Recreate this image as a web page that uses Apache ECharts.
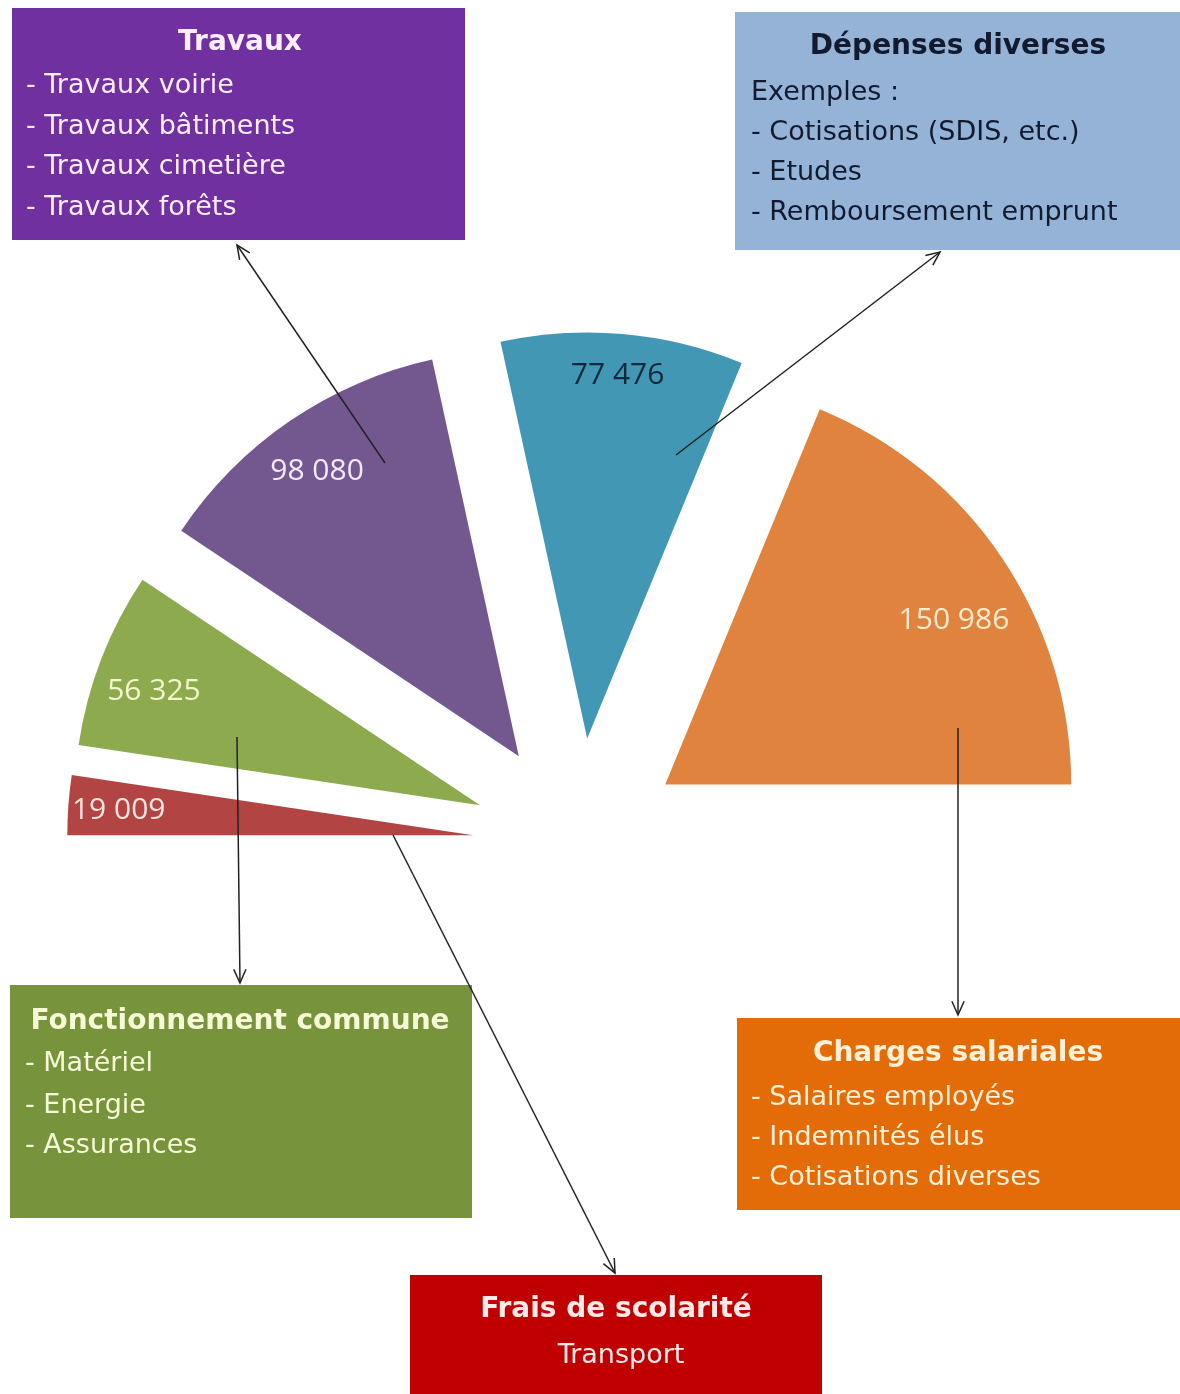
<!DOCTYPE html>
<html><head><meta charset="utf-8">
<script src="https://cdn.jsdelivr.net/npm/echarts@6/dist/echarts.min.js"></script>
<style>html,body{margin:0;padding:0;background:#fff}#c{width:1180px;height:1394px}</style>
</head><body><div id="c"></div>
<script>
// Data
var categories = ['Frais de scolarité', 'Fonctionnement commune', 'Travaux', 'Dépenses diverses', 'Charges salariales'];
var values = [19009, 56325, 98080, 77476, 150986];
var labelTexts = ['19 009', '56 325', '98 080', '77 476', '150 986'];
var sliceColors = ['#B24543', '#8DAA4E', '#735890', '#4197B4', '#DF833F'];
var labelColors = ['#F8E4DE', '#F2F7CC', '#F3E8F6', '#13283B', '#FCEBCB'];
var labelNudges = [[-8,1],[-2,12],[-6,2],[0,-17],[0,29]];

var FONT = '"Comic Sans MS","DejaVu Sans",sans-serif';

var boxes = [
  {x:12, y:8, w:453, h:232, fill:'#7030A0', color:'#FFEEFF', title:'Travaux', tx:240, ty:43,
   lines:['- Travaux voirie','- Travaux bâtiments','- Travaux cimetière','- Travaux forêts'], lx:26, ly:[86,127,167,208]},
  {x:735, y:12, w:445, h:238, fill:'#95B3D7', color:'#121a30', title:'Dépenses diverses', tx:958, ty:47,
   lines:['Exemples :','- Cotisations (SDIS, etc.)','- Etudes','- Remboursement emprunt'], lx:751, ly:[93,133,173,213]},
  {x:10, y:985, w:462, h:233, fill:'#77933C', color:'#F6FAD6', title:'Fonctionnement commune', tx:240, ty:1022,
   lines:['- Matériel','- Energie','- Assurances'], lx:25, ly:[1064,1106,1146]},
  {x:737, y:1018, w:443, h:192, fill:'#E36C09', color:'#FFF0D6', title:'Charges salariales', tx:958, ty:1054,
   lines:['- Salaires employés','- Indemnités élus','- Cotisations diverses'], lx:751, ly:[1098,1138,1178]},
  {x:410, y:1275, w:412, h:119, fill:'#C00000', color:'#FFEAEA', title:'Frais de scolarité', tx:616, ty:1310,
   lines:['Transport'], lx:621, ly:[1356], center:true}
];
var arrows = [
  [385,463,237,245],
  [676,455,940,252],
  [237,737,240,983],
  [958,728,958,1015],
  [393,835,615,1273]
];

var graphics = [];
boxes.forEach(function(b){
  graphics.push({type:'rect', shape:{x:b.x,y:b.y,width:b.w,height:b.h}, style:{fill:b.fill}, z:1});
  graphics.push({type:'text', x:b.tx, y:b.ty, style:{text:b.title, fill:b.color, font:'bold 28px '+FONT, align:'center', verticalAlign:'middle'}, z:2});
  b.lines.forEach(function(t,i){
    graphics.push({type:'text', x:b.lx, y:b.ly[i], style:{text:t, fill:b.color, font:'27px '+FONT, align:b.center?'center':'left', verticalAlign:'middle'}, z:2});
  });
});
arrows.forEach(function(a){
  var x1=a[0],y1=a[1],x2=a[2],y2=a[3];
  var ang=Math.atan2(y2-y1,x2-x1), L=15, s=0.42;
  graphics.push({type:'line', shape:{x1:x1,y1:y1,x2:x2,y2:y2}, style:{stroke:'#222',lineWidth:1.5}, z:10});
  graphics.push({type:'polyline', shape:{points:[
    [x2-L*Math.cos(ang-s), y2-L*Math.sin(ang-s)], [x2,y2], [x2-L*Math.cos(ang+s), y2-L*Math.sin(ang+s)]
  ]}, style:{stroke:'#222',lineWidth:1.5,fill:null}, z:10});
});

function mkData(withColor){
  return values.map(function(v,i){
    return {name:categories[i], value:v, selected:true,
      itemStyle: withColor ? {color:sliceColors[i]} : {color:'rgba(0,0,0,0)'},
      label: withColor ? {show:false} : {show:true, formatter:labelTexts[i], color:labelColors[i]}};
  });
}

var common = {
  type:'pie', center:[578,843], startAngle:180, endAngle:0, clockwise:true,
  selectedMode:'multiple', selectedOffset:105, avoidLabelOverlap:false,
  emphasis:{disabled:true}, labelLine:{show:false}, animation:false, silent:true
};
var chart = echarts.init(document.getElementById('c'), null, {renderer:'canvas'});
chart.setOption({
  animation:false,
  graphic:graphics,
  series:[
    Object.assign({}, common, {name:'slices', radius:[0,406], data:mkData(true), z:2}),
    Object.assign({}, common, {name:'labels', radius:[283,406], data:mkData(false), z:3,
      label:{show:true, position:'inside', fontFamily:'"Open Sans","Noto Sans",sans-serif', fontSize:30},
      labelLayout:function(p){ var n=labelNudges[p.dataIndex]||[0,0]; return {dx:n[0], dy:n[1]}; }})
  ]
});
</script></body></html>
